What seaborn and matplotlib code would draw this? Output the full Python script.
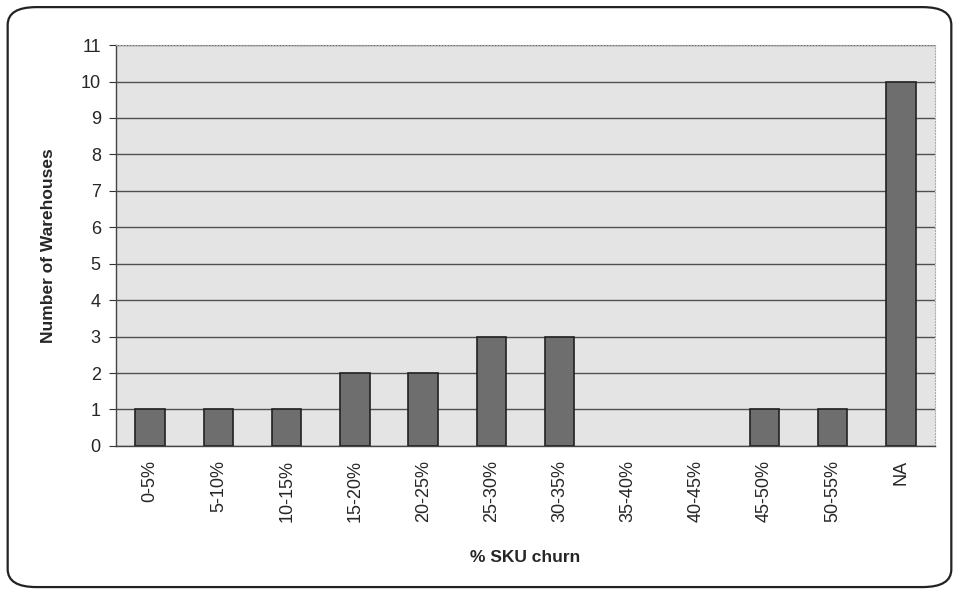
import numpy as np
import pandas as pd
import matplotlib
matplotlib.use("Agg")
import matplotlib.pyplot as plt
import seaborn as sns
from matplotlib.patches import FancyBboxPatch

categories = ['0-5%', '5-10%', '10-15%', '15-20%', '20-25%', '25-30%',
              '30-35%', '35-40%', '40-45%', '45-50%', '50-55%', 'NA']
counts = [1, 1, 1, 2, 2, 3, 3, 0, 0, 1, 1, 10]

df = pd.DataFrame({'churn': categories, 'warehouses': counts})

sns.set_style('white')
plt.rcParams['font.family'] = ['Liberation Sans', 'DejaVu Sans']

fig = plt.figure(figsize=(9.59, 5.93), dpi=100)
ax = fig.add_axes([0.121, 0.248, 0.854, 0.676])
ax.set_facecolor('#e4e4e4')

sns.barplot(data=df, x='churn', y='warehouses', ax=ax, color='#6e6e6e',
            width=0.43, edgecolor='#222222', linewidth=1.2, saturation=1,
            order=categories, zorder=3)

# empty classes: no outline along the baseline
for bar in ax.patches:
    if bar.get_height() == 0:
        bar.set_linewidth(0)

ax.set_ylim(0, 11)
ax.set_xlim(-0.5, len(categories) - 0.5)
ax.set_yticks(range(0, 12))
ax.yaxis.grid(True, color='#505050', linewidth=1.0, zorder=0)
ax.set_axisbelow(True)

# Excel style: tick marks between categories
ax.set_xticks(np.arange(len(categories)))
ax.set_xticklabels(categories, rotation=90, fontsize=13)
ax.set_xticks(np.arange(-0.5, len(categories)), minor=True)
ax.tick_params(axis='x', which='major', length=0, pad=10)
ax.tick_params(axis='x', which='minor', length=5, color='#333333', direction='out')
ax.tick_params(axis='y', length=5, color='#333333', direction='out', labelsize=13, left=True, pad=6)

for side in ['left', 'bottom']:
    ax.spines[side].set_color('#444444')
    ax.spines[side].set_linewidth(1.0)
for side in ['top', 'right']:
    ax.spines[side].set_color('#aaaaaa')
    ax.spines[side].set_linewidth(0.8)
    ax.spines[side].set_linestyle(':')

ax.set_xlabel('% SKU churn', fontsize=12.5, fontweight='bold', labelpad=20)
ax.set_ylabel('Number of Warehouses', fontsize=12.5, fontweight='bold', labelpad=18)

# rounded chart frame
frame = FancyBboxPatch((0.008, 0.01), 0.984, 0.978,
                       boxstyle='round,pad=0,rounding_size=0.03',
                       transform=fig.transFigure, fill=False,
                       edgecolor='#222222', linewidth=1.6)
fig.patches.append(frame)

fig.savefig('out.png', dpi=100)
